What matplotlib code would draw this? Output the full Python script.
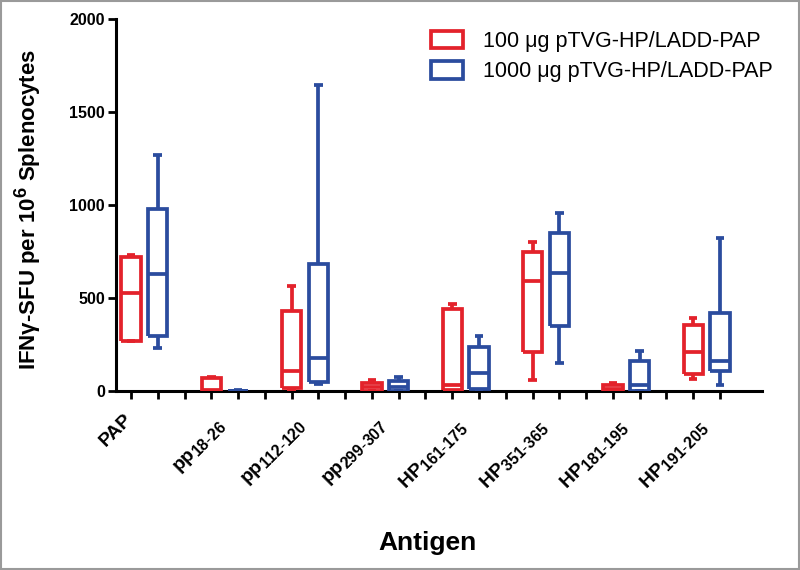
import matplotlib
matplotlib.use("Agg")
import matplotlib.pyplot as plt
from matplotlib.patches import Patch, Rectangle
import matplotlib.transforms as mtrans
import matplotlib._mathtext as _mt

_mt.SHRINK_FACTOR = 0.82

plt.rcParams["font.family"] = ["Liberation Sans", "DejaVu Sans"]
plt.rcParams["mathtext.fontset"] = "custom"
plt.rcParams["mathtext.rm"] = "Liberation Sans"
plt.rcParams["mathtext.bf"] = "Liberation Sans:bold"
plt.rcParams["mathtext.it"] = "Liberation Sans:italic"

# ---------------- data ----------------
antigen_base = ["PAP", "pp", "pp", "pp", "HP", "HP", "HP", "HP"]
antigen_sub = ["", "18-26", "112-120", "299-307", "161-175", "351-365", "181-195", "191-205"]
series_labels = ["100 \u03bcg pTVG-HP/LADD-PAP", "1000 \u03bcg pTVG-HP/LADD-PAP"]

# 100 ug group (red): whisker low, Q1, median, Q3, whisker high
red_whislo = [272, 0, 8, 0, 0, 61, 0, 64]
red_q1 = [272, 0, 16, 0, 7, 213, 0, 93]
red_med = [527, 5, 111, 22, 34, 593, 15, 213]
red_q3 = [724, 70, 432, 43, 441, 747, 34, 356]
red_whishi = [733, 75, 568, 61, 468, 804, 46, 392]

# 1000 ug group (blue)
blue_whislo = [231, 0, 40, 0, 0, 150, 0, 34]
blue_q1 = [299, 0, 48, 0, 11, 351, 3, 111]
blue_med = [631, 0, 177, 25, 100, 634, 34, 163]
blue_q3 = [978, 3, 684, 55, 240, 849, 165, 423]
blue_whishi = [1270, 5, 1647, 79, 297, 957, 218, 826]

y_ticks = [0, 500, 1000, 1500, 2000]

RED = "#E3222B"
BLUE = "#2B4C9E"

# ---------------- figure ----------------
fig = plt.figure(figsize=(8, 5.7), dpi=100)
ax = fig.add_axes([0.145, 0.3135, 0.8075, 0.6525])


def make_stats(lo, q1, med, q3, hi):
    return [dict(whislo=a, q1=b, med=c, q3=d, whishi=e, fliers=[])
            for a, b, c, d, e in zip(lo, q1, med, q3, hi)]


n = len(antigen_base)
red_pos = [3 * i for i in range(n)]
blue_pos = [3 * i + 1 for i in range(n)]

for stats, pos, col in [
    (make_stats(red_whislo, red_q1, red_med, red_q3, red_whishi), red_pos, RED),
    (make_stats(blue_whislo, blue_q1, blue_med, blue_q3, blue_whishi), blue_pos, BLUE),
]:
    lp = dict(color=col, linewidth=2.7, solid_joinstyle="miter", solid_capstyle="butt")
    ax.bxp(stats, positions=pos, widths=0.72, capwidths=0.32, showfliers=False,
           boxprops=lp, whiskerprops=lp, capprops=lp, medianprops=lp,
           manage_ticks=False, zorder=3)

ax.set_xlim(-0.56, 3 * n - 1 + 0.57)
ax.set_ylim(0, 2000)
ax.set_yticks(y_ticks)
ax.set_yticklabels([str(v) for v in y_ticks], fontsize=11.5, fontweight="bold")
ax.set_xticks(range(3 * n - 1))
ax.set_xticklabels([])

for s in ["top", "right"]:
    ax.spines[s].set_visible(False)
for s in ["left", "bottom"]:
    ax.spines[s].set_linewidth(2.2)
    ax.spines[s].set_color("black")
ax.tick_params(axis="both", direction="out", length=6, width=2.0, color="black")
ax.tick_params(axis="y", pad=2)

ax.set_ylabel("IFN\u03b3-SFU per 10$^{\\mathbf{6}}$ Splenocytes",
              fontsize=16, fontweight="bold")
ax.yaxis.set_label_coords(-0.112, 0.49)

# rotated antigen labels
for i in range(n):
    base = antigen_base[i]
    sub = antigen_sub[i]
    if sub:
        parts = sub.split("-")
        txt = base + r"$_{\mathbf{" + parts[0] + r"}\text{-}\mathbf{" + parts[1] + r"}}$"
        dx, dy = 19, -26
    else:
        txt = base
        dx, dy = 5, -19
    tr = mtrans.blended_transform_factory(ax.transData, ax.transAxes) + \
        mtrans.ScaledTranslation(dx / 100, dy / 100, fig.dpi_scale_trans)
    ax.text(red_pos[i], 0, txt, transform=tr, rotation=45, ha="right", va="top",
            fontsize=14, fontweight="bold", clip_on=False)

fig.text(0.534, 1 - 543 / 570, "Antigen", ha="center", va="center",
         fontsize=19, fontweight="bold")

handles = [Patch(facecolor="white", edgecolor=RED, linewidth=2.7),
           Patch(facecolor="white", edgecolor=BLUE, linewidth=2.7)]
fig.legend(handles, series_labels, loc="upper right",
           bbox_to_anchor=(781 / 800, 1 - 22 / 570), frameon=False,
           fontsize=15.5, handlelength=1.5, handleheight=0.85,
           labelspacing=0.45, handletextpad=0.9, borderaxespad=0)

fig.patches.append(Rectangle((0.001, 0.001), 0.998, 0.998, transform=fig.transFigure,
                             fill=False, edgecolor="#9a9a9a", linewidth=1.5))

fig.savefig("out.png", dpi=100)
